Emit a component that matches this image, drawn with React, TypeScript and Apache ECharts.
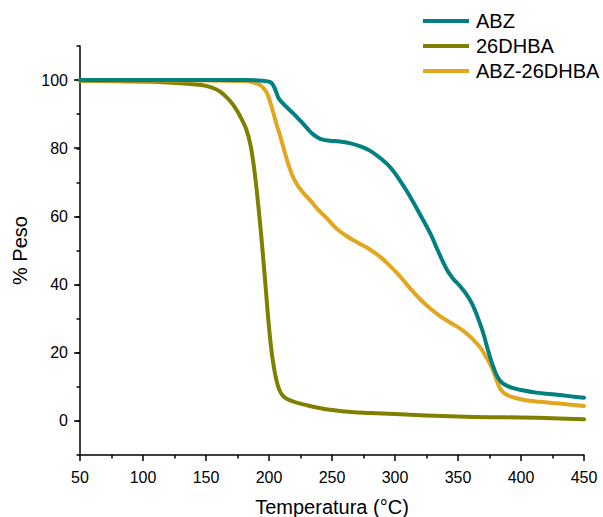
import React, { useEffect, useRef } from 'react';
import * as echarts from 'echarts';

const seriesNames = ['ABZ', '26DHBA', 'ABZ-26DHBA'];
const seriesColors = ['#008080', '#808000', '#E3A61F'];

const abzT = [50, 100, 150, 180, 195, 201, 204, 206, 208, 212, 219, 225, 230, 234, 238, 242, 248, 256, 264, 272, 280, 288, 296, 304, 312, 320, 328, 334, 341, 346, 351, 356, 361, 365, 370, 374, 378, 382, 386, 394, 402, 412, 425, 440, 450];
const abzW = [100, 100, 100, 100, 99.8, 99.4, 98, 96.2, 94.5, 92.8, 90.3, 88, 86, 84.4, 83.3, 82.6, 82.2, 82, 81.5, 80.6, 79.3, 77.2, 74.5, 70.5, 65.8, 60.5, 55, 50, 44.5, 41.8, 39.8, 37.5, 34.5, 31, 25.8, 20.5, 15.9, 12.5, 10.9, 9.6, 8.9, 8.3, 7.8, 7.2, 6.8];

const dhbaT = [50, 90, 120, 140, 150, 158, 164, 170, 175, 179, 182, 185, 187.5, 190, 192.5, 195, 197.5, 200, 202, 204, 206, 208, 210.5, 214, 220, 230, 240, 250, 265, 280, 300, 325, 350, 375, 400, 425, 450];
const dhbaW = [99.8, 99.6, 99.3, 98.8, 98.3, 97.3, 95.8, 93.5, 90.8, 88, 85.5, 81.5, 76, 68.5, 59.5, 49.5, 38.5, 27.5, 20.5, 15.5, 11.8, 9.3, 7.6, 6.5, 5.6, 4.6, 3.8, 3.2, 2.6, 2.3, 2.0, 1.6, 1.3, 1.1, 1.0, 0.8, 0.5];

const mixT = [50, 100, 150, 180, 188, 193, 197, 199, 201, 203, 206, 209, 212, 215, 218, 222, 227, 232.5, 239, 246, 254, 263, 272, 280, 288, 296, 304, 312, 320, 328, 336, 345, 354, 361, 367.5, 372, 377, 381, 384, 388, 395, 405, 415, 430, 450];
const mixW = [99.9, 99.9, 99.9, 99.7, 99.3, 98.5, 97, 95.6, 93.5, 91, 87, 83.4, 79.5, 75.7, 72.5, 69.5, 67, 64.8, 62, 59.4, 56.3, 53.9, 52, 50.3, 48.2, 45.5, 42.4, 38.9, 35.7, 33, 30.7, 28.6, 26.5, 24.2, 21.6, 19, 15.5, 11.6, 9.2, 7.8, 6.8, 6, 5.6, 5.1, 4.4];

const xMin = 50;
const xMax = 450;
const xInterval = 50;
const yMin = 0;
const yMax = 100;
const yInterval = 20;
const yOuterMin = -10;
const yOuterMax = 110;

const FONT = 'Arial, "Liberation Sans", sans-serif';

export default function App() {
  const ref = useRef<HTMLDivElement>(null);
  useEffect(() => {
    if (!ref.current) return;
    const chart = echarts.init(ref.current, null, { renderer: 'svg' });
    const left = 80;
    const right = 19;
    const top = 46;
    const height = 409;
    const span = yOuterMax - yOuterMin;
    const topB = top + (height * (yOuterMax - yMax)) / span;
    const heightB = (height * (yMax - yMin)) / span;
    const pair = (t: number[], w: number[]) => t.map((v, i) => [v, w[i]]);
    const datasets = [pair(abzT, abzW), pair(dhbaT, dhbaW), pair(mixT, mixW)];
    chart.setOption({
      animation: false,
      backgroundColor: '#ffffff',
      textStyle: { fontFamily: FONT },
      grid: [
        { left, right, top, height, containLabel: false, outerBoundsMode: 'none' },
        { left, right, top: topB, height: heightB, containLabel: false, outerBoundsMode: 'none' },
      ],
      legend: {
        orient: 'vertical',
        left: 423,
        top: 11,
        padding: 0,
        itemGap: 5,
        itemWidth: 46,
        itemHeight: 4,
        icon: 'rect',
        data: seriesNames,
        textStyle: { fontSize: 20, color: '#000', fontFamily: FONT, padding: [0, 0, 0, 2] },
      },
      xAxis: [
        {
          type: 'value',
          gridIndex: 0,
          min: xMin,
          max: xMax,
          interval: xInterval,
          name: 'Temperatura (°C)',
          nameLocation: 'middle',
          nameGap: 42,
          nameTextStyle: { fontSize: 20, color: '#000', fontFamily: FONT },
          axisLine: { show: true, onZero: false, lineStyle: { color: '#000', width: 1.5 } },
          axisTick: { show: true, inside: false, length: 6, lineStyle: { color: '#000', width: 1.5 } },
          minorTick: { show: true, splitNumber: 2, length: 3.5, lineStyle: { color: '#000', width: 1.5 } },
          axisLabel: { fontSize: 16, color: '#000', margin: 14, fontFamily: FONT },
          splitLine: { show: false },
        },
        {
          type: 'value',
          gridIndex: 1,
          min: xMin,
          max: xMax,
          interval: xInterval,
          show: false,
        },
      ],
      yAxis: [
        {
          type: 'value',
          gridIndex: 0,
          min: yOuterMin,
          max: yOuterMax,
          interval: 10,
          axisLine: { show: true, onZero: false, lineStyle: { color: '#000', width: 1.5 } },
          axisTick: { show: true, inside: false, length: 3.5, lineStyle: { color: '#000', width: 1.5 } },
          axisLabel: { show: false },
          splitLine: { show: false },
        },
        {
          type: 'value',
          gridIndex: 1,
          min: yMin,
          max: yMax,
          interval: yInterval,
          name: '% Peso',
          nameLocation: 'middle',
          nameGap: 50,
          nameTextStyle: { fontSize: 20, color: '#000', fontFamily: FONT },
          axisLine: { show: false },
          axisTick: { show: true, inside: false, length: 6, lineStyle: { color: '#000', width: 1.5 } },
          axisLabel: { fontSize: 16, color: '#000', margin: 12, fontFamily: FONT },
          splitLine: { show: false },
        },
      ],
      series: seriesNames.map((name, i) => ({
        name,
        type: 'line',
        xAxisIndex: 0,
        yAxisIndex: 0,
        data: datasets[i],
        showSymbol: false,
        symbol: 'none',
        smooth: 0.45,
        color: seriesColors[i],
        lineStyle: { color: seriesColors[i], width: 4, join: 'round', cap: 'round' },
        z: i === 0 ? 3 : i === 2 ? 2 : 1,
      })),
    });
    return () => chart.dispose();
  }, []);
  return <div ref={ref} style={{ position: 'absolute', left: 0, top: 0, width: 603, height: 517 }} />;
}
